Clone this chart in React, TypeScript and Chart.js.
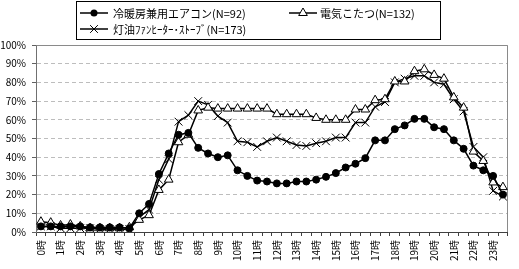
import React, { useEffect, useRef } from 'react';
import { Chart, registerables } from 'chart.js';

Chart.register(...registerables);

const categories: string[] = [
  '0:00', '0:30', '1:00', '1:30', '2:00', '2:30', '3:00', '3:30', '4:00', '4:30',
  '5:00', '5:30', '6:00', '6:30', '7:00', '7:30', '8:00', '8:30', '9:00', '9:30',
  '10:00', '10:30', '11:00', '11:30', '12:00', '12:30', '13:00', '13:30', '14:00', '14:30',
  '15:00', '15:30', '16:00', '16:30', '17:00', '17:30', '18:00', '18:30', '19:00', '19:30',
  '20:00', '20:30', '21:00', '21:30', '22:00', '22:30', '23:00', '23:30',
];

const hourTickLabels: string[] = [
  '0時', '1時', '2時', '3時', '4時', '5時', '6時', '7時', '8時', '9時', '10時', '11時',
  '12時', '13時', '14時', '15時', '16時', '17時', '18時', '19時', '20時', '21時', '22時', '23時',
];

const seriesNames: string[] = [
  '冷暖房兼用エアコン(N=92)',
  '電気こたつ(N=132)',
  '灯油ﾌｧﾝﾋｰﾀｰ･ｽﾄｰﾌﾞ(N=173)',
];

const airconValues: number[] = [
  3, 3, 3, 3, 3, 2.5, 2.5, 2.5, 2.5, 2,
  10, 15, 31, 42, 52, 53, 45, 42, 40, 41,
  33, 30, 27.5, 27, 26, 26, 27, 27, 28, 29.5,
  31.5, 34.5, 36.5, 39.5, 49, 49, 55, 57, 60.5, 60.5,
  56, 55, 49, 44.5, 35.5, 33, 30, 20,
];

const kotatsuValues: number[] = [
  5.5, 5, 3.5, 4, 3, 2, 2, 2, 2, 2.5,
  6.5, 9, 22.5, 28, 48, 52, 65, 66.5, 66, 66,
  66, 66, 66, 66, 63, 63, 63, 63, 61, 60,
  60, 60, 65.5, 65.5, 70.5, 71, 80.5, 80.5, 86, 87,
  84, 82, 72, 66.5, 43, 38, 26.5, 24,
];

const keroseneValues: number[] = [
  3, 3, 2, 2, 2, 2, 1.5, 1.5, 1.5, 1.5,
  8, 12, 28, 39, 59, 62.5, 70, 68, 62, 58.5,
  48.5, 48, 45.5, 48.5, 50.5, 48.5, 46.5, 46, 47.5, 48.5,
  50.5, 50.5, 58.5, 58.5, 67, 69.5, 80, 82, 83.5, 83.5,
  80, 79, 71, 64.5, 45.5, 40, 22, 19,
];

const yMin = 0;
const yMax = 100;
const yStep = 10;

const FONT = "'Noto Sans CJK JP', 'Noto Sans', sans-serif";

function drawMarker(ctx: CanvasRenderingContext2D, style: string, x: number, y: number) {
  ctx.save();
  ctx.lineWidth = 1;
  ctx.strokeStyle = '#000';
  ctx.beginPath();
  if (style === 'circle') {
    ctx.fillStyle = '#000';
    ctx.arc(x, y, 3.5, 0, Math.PI * 2);
    ctx.fill();
  } else if (style === 'triangle') {
    const r = 5;
    ctx.fillStyle = '#fff';
    for (let k = 0; k < 3; k++) {
      const a = (k * 2 * Math.PI) / 3;
      const px = x + Math.sin(a) * r;
      const py = y - Math.cos(a) * r;
      if (k === 0) ctx.moveTo(px, py);
      else ctx.lineTo(px, py);
    }
    ctx.closePath();
    ctx.fill();
    ctx.stroke();
  } else {
    const o = 5.5 * Math.cos(Math.PI / 4);
    ctx.moveTo(x - o, y - o);
    ctx.lineTo(x + o, y + o);
    ctx.moveTo(x + o, y - o);
    ctx.lineTo(x - o, y + o);
    ctx.stroke();
  }
  ctx.restore();
}

const boxLegend = {
  id: 'boxLegend',
  afterDraw(chart: any) {
    const ctx: CanvasRenderingContext2D = chart.ctx;
    ctx.save();
    ctx.strokeStyle = '#000';
    ctx.lineWidth = 1;
    ctx.strokeRect(76.5, 1.5, 364, 38);
    const items = [
      { ds: 0, x: 80, textX: 113, y: 13 },
      { ds: 1, x: 289, textX: 320, y: 13 },
      { ds: 2, x: 80, textX: 113, y: 29 },
    ];
    items.forEach((it) => {
      const ds = chart.data.datasets[it.ds];
      ctx.beginPath();
      ctx.strokeStyle = '#000';
      ctx.lineWidth = 1.5;
      ctx.moveTo(it.x, it.y);
      ctx.lineTo(it.x + 28, it.y);
      ctx.stroke();
      drawMarker(ctx, ds.pointStyle, it.x + 14, it.y);
      ctx.fillStyle = '#000';
      ctx.font = `11px ${FONT}`;
      ctx.textAlign = 'left';
      ctx.textBaseline = 'middle';
      ctx.fillText(ds.label, it.textX, it.y + 1);
    });
    ctx.restore();
  },
};

const plotFrame = {
  id: 'plotFrame',
  beforeDatasetsDraw(chart: any) {
    const { ctx, chartArea } = chart;
    ctx.save();
    ctx.strokeStyle = '#8a8a8a';
    ctx.lineWidth = 1;
    ctx.beginPath();
    ctx.moveTo(Math.round(chartArea.left) + 0.5, Math.round(chartArea.top) + 0.5);
    ctx.lineTo(Math.round(chartArea.right) - 0.5, Math.round(chartArea.top) + 0.5);
    ctx.lineTo(Math.round(chartArea.right) - 0.5, Math.round(chartArea.bottom));
    ctx.stroke();
    ctx.restore();
  },
};

export default function App() {
  const canvasRef = useRef<HTMLCanvasElement | null>(null);

  useEffect(() => {
    document.body.style.margin = '0';
    const canvas = canvasRef.current;
    if (!canvas) return;
    const common = {
      borderColor: '#000',
      borderWidth: 1.5,
      pointBorderColor: '#000',
      pointBorderWidth: 1,
      tension: 0,
      fill: false,
    };
    const chart = new Chart(canvas, {
      type: 'line',
      data: {
        labels: categories,
        datasets: [
          {
            ...common,
            label: seriesNames[0],
            data: airconValues,
            pointStyle: 'circle',
            pointRadius: 3.5,
            pointBackgroundColor: '#000',
          },
          {
            ...common,
            label: seriesNames[1],
            data: kotatsuValues,
            pointStyle: 'triangle',
            pointRadius: 5,
            pointBackgroundColor: '#fff',
          },
          {
            ...common,
            label: seriesNames[2],
            data: keroseneValues,
            pointStyle: 'crossRot',
            pointRadius: 5.5,
            pointBackgroundColor: '#000',
          },
        ],
      },
      options: {
        responsive: false,
        animation: false,
        devicePixelRatio: 1,
        layout: { padding: { top: 45, right: 5, left: 0, bottom: 0 } },
        plugins: {
          legend: { display: false },
          tooltip: { enabled: false },
          title: { display: false },
        },
        scales: {
          x: {
            type: 'category',
            offset: true,
            grid: {
              offset: true,
              drawOnChartArea: false,
              drawTicks: true,
              tickLength: 4,
              tickColor: '#404040',
            },
            border: { display: true, color: '#404040', width: 1 },
            ticks: {
              autoSkip: false,
              maxRotation: 90,
              minRotation: 90,
              padding: 4,
              color: '#000',
              font: { family: FONT, size: 10 },
              callback: (_v: any, i: number) => (i % 2 === 0 ? hourTickLabels[i / 2] : ''),
            },
            afterFit: (scale: any) => {
              scale.height = 37;
            },
          },
          y: {
            min: yMin,
            max: yMax,
            grid: {
              color: (c: any) => (c.tick && c.tick.value === 0 ? 'rgba(0,0,0,0)' : '#bdbdbd'),
              tickColor: '#606060',
              tickLength: 4,
              drawTicks: true,
            },
            border: { display: true, color: '#707070', width: 1, dash: [4, 3] },
            ticks: {
              stepSize: yStep,
              padding: 6,
              color: '#000',
              font: { family: FONT, size: 10 },
              callback: (v: any) => `${v}%`,
            },
            afterFit: (scale: any) => {
              scale.width = 36;
            },
          },
        },
      },
      plugins: [plotFrame, boxLegend],
    });
    return () => chart.destroy();
  }, []);

  return (
    <div style={{ width: 519, height: 269 }}>
      <canvas ref={canvasRef} width={519} height={269} style={{ display: 'block' }} />
    </div>
  );
}
